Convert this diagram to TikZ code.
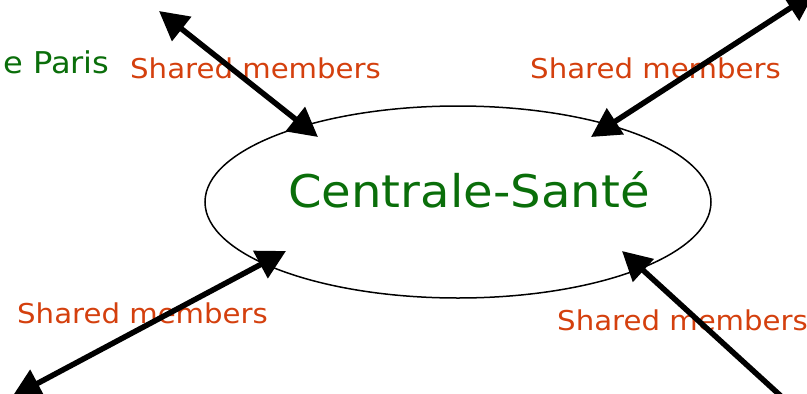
\documentclass[tikz,border=0pt]{standalone}
\usepackage{fontspec}
\newfontfamily\lblfont[FakeStretch=1.07]{DejaVu Sans}
\usetikzlibrary{arrows.meta,shapes.geometric}
\definecolor{cgreen}{RGB}{10,110,10}
\definecolor{corange}{RGB}{212,64,14}
\tikzset{
  link/.style={line width=5.5pt, {Triangle[length=29pt,width=30pt]}-{Triangle[length=29pt,width=30pt]}},
  sharedlbl/.style={anchor=base west, inner sep=0pt, text=corange, font=\lblfont\fontsize{27.3}{30}\selectfont},
  orglbl/.style={anchor=base west, inner sep=0pt, text=cgreen},
}
\begin{document}
\begin{tikzpicture}[x=1pt,y=-1pt]
\useasboundingbox (0,0) rectangle (807,394);
\clip (0,0) rectangle (807,394);
\node (cs) [draw, line width=1.5pt, ellipse, minimum width=506pt, minimum height=192pt, inner sep=0pt] at (458,202) {};
\node (cstext) [orglbl, font=\lblfont\fontsize{45}{50}\selectfont] at (288,207) {Centrale-Santé};
\node (paris) [orglbl, font=\lblfont\fontsize{30}{34}\selectfont] at (3,73) {e Paris};
\node (l1) [sharedlbl] at (130,78) {Shared members};
\node (l2) [sharedlbl] at (530,78) {Shared members};
\node (l3) [sharedlbl] at (17,323) {Shared members};
\node (l4) [sharedlbl] at (557,330) {Shared members};
\coordinate (tlfar) at (159,11);
\coordinate (tlnear) at (318,137);
\coordinate (trfar) at (815,-8);
\coordinate (trnear) at (591,137);
\coordinate (blfar) at (12,397);
\coordinate (blnear) at (286,251);
\coordinate (brfar) at (840,450);
\coordinate (brnear) at (622,251);
\draw[link] (tlfar) -- (tlnear);
\draw[link] (trfar) -- (trnear);
\draw[link] (blfar) -- (blnear);
\draw[link] (brfar) -- (brnear);
\end{tikzpicture}
\end{document}
